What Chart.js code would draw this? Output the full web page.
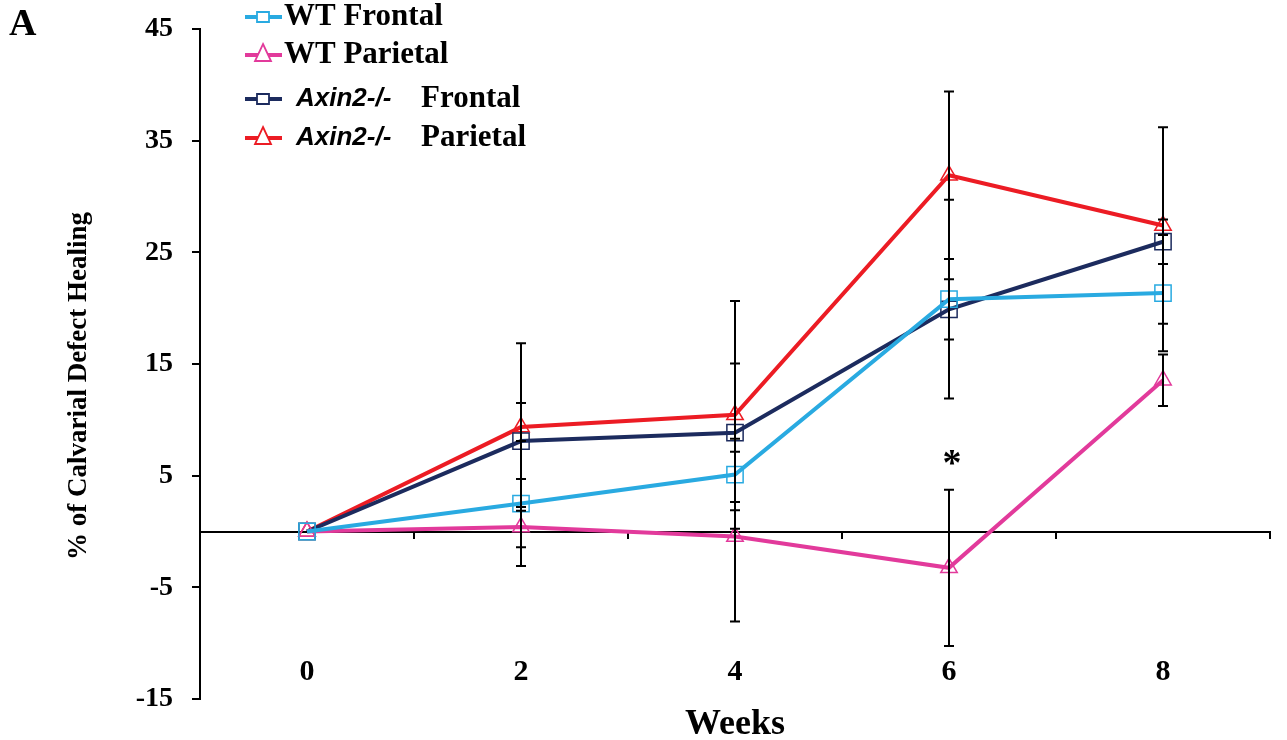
<!DOCTYPE html>
<html>
<head>
<meta charset="utf-8">
<script src="https://cdn.jsdelivr.net/npm/chart.js@4.4.1/dist/chart.umd.min.js"></script>
<style>
  html, body { margin: 0; padding: 0; background: #fff; }
  canvas { display: block; }
</style>
</head>
<body>
<canvas id="canvas" width="1287" height="740"></canvas>
<script>
const weeks = ['0', '2', '4', '6', '8'];
const yTicks = [-15, -5, 5, 15, 25, 35, 45];

const wtFrontal = [0, 2.5, 5.1, 20.8, 21.35];
const wtFrontalErr = [0, 5.6, 3.2, 8.9, 5.2];
const wtParietal = [0, 0.4, -0.45, -3.25, 13.55];
const wtParietalErr = [0, 1.8, 7.6, 7.0, 2.3];
const axinFrontal = [0, 8.1, 8.85, 19.9, 25.95];
const axinFrontalErr = [0, 3.4, 6.2, 2.7, 2.0];
const axinParietal = [0, 9.35, 10.45, 31.9, 27.4];
const axinParietalErr = [0, 7.5, 10.2, 7.5, 8.8];

// legend text: italic part, plain part
const legendNames = [['', 'WT Frontal'], ['', 'WT Parietal'], ['Axin2-/-', 'Frontal'], ['Axin2-/-', 'Parietal']];
const marks = [{ week: '6', value: 6.7, text: '*' }];

const serif = '"Liberation Serif", "Times New Roman", serif';
Chart.defaults.font.family = serif;
Chart.defaults.font.weight = 'bold';
Chart.defaults.color = '#000';

function series(i, data, errors, color, style) {
    return {
        label: legendNames[i].join(' ').trim(),
        parts: legendNames[i],
        data: data,
        errors: errors,
        borderColor: color,
        backgroundColor: color,
        borderWidth: 4,
        pointStyle: style,
        pointRadius: style === 'rect' ? 11.5 : 9.5,
        pointBorderWidth: 1.5,
        pointBackgroundColor: 'rgba(0,0,0,0)',
        pointBorderColor: color,
        tension: 0
    };
}

const errorBars = {
    id: 'errorBars',
    afterDatasetsDraw(chart) {
        const { ctx, scales: { x, y } } = chart;
        ctx.save();
        ctx.strokeStyle = '#000';
        ctx.lineWidth = 2;
        chart.data.datasets.forEach(ds => {
            ds.errors.forEach((e, i) => {
                if (!e) return;
                const px = x.getPixelForValue(i);
                const top = y.getPixelForValue(ds.data[i] + e);
                const bot = y.getPixelForValue(ds.data[i] - e);
                ctx.beginPath();
                ctx.moveTo(px, top); ctx.lineTo(px, bot);
                ctx.moveTo(px - 5, top); ctx.lineTo(px + 5, top);
                ctx.moveTo(px - 5, bot); ctx.lineTo(px + 5, bot);
                ctx.stroke();
            });
        });
        ctx.restore();
    }
};

const legendBox = {
    id: 'legendBox',
    afterDraw(chart) {
        const ctx = chart.ctx;
        const rows = [17, 55, 99, 138];
        chart.data.datasets.forEach((ds, i) => {
            const y = rows[i];
            ctx.save();
            ctx.strokeStyle = ds.borderColor;
            ctx.lineWidth = 4;
            ctx.beginPath();
            ctx.moveTo(245, y); ctx.lineTo(282, y);
            ctx.stroke();
            ctx.lineWidth = 1.8;
            ctx.fillStyle = '#fff';
            ctx.beginPath();
            if (ds.pointStyle === 'rect') {
                ctx.rect(257, y - 5, 12, 10);
            } else {
                ctx.moveTo(263, y - 11);
                ctx.lineTo(271, y + 6);
                ctx.lineTo(255, y + 6);
                ctx.closePath();
            }
            ctx.fill();
            ctx.stroke();
            ctx.fillStyle = '#000';
            ctx.textBaseline = 'middle';
            ctx.textAlign = 'left';
            if (ds.parts[0]) {
                ctx.font = 'italic bold 26px "Liberation Sans", Arial, sans-serif';
                ctx.fillText(ds.parts[0], 296, y);
                ctx.font = 'bold 31px ' + serif;
                ctx.fillText(ds.parts[1], 421, y);
            } else {
                ctx.font = 'bold 31px ' + serif;
                ctx.fillText(ds.parts[1], 284, y);
            }
            ctx.restore();
        });
    }
};

const texts = {
    id: 'texts',
    afterDraw(chart) {
        const { ctx, scales: { x, y } } = chart;
        ctx.save();
        ctx.fillStyle = '#000';
        ctx.textAlign = 'left';
        ctx.textBaseline = 'middle';
        ctx.font = 'bold 38px ' + serif;
        ctx.fillText('A', 9, 25);

        ctx.translate(79, 386);
        ctx.rotate(-Math.PI / 2);
        ctx.textAlign = 'center';
        ctx.font = 'bold 27px ' + serif;
        ctx.fillText('% of Calvarial Defect Healing', 0, 0);
        ctx.restore();

        ctx.save();
        ctx.fillStyle = '#000';
        ctx.textAlign = 'center';
        ctx.textBaseline = 'alphabetic';
        ctx.font = 'bold 38px ' + serif;
        marks.forEach(m => {
            const px = x.getPixelForValue(weeks.indexOf(m.week));
            const py = y.getPixelForValue(m.value);
            ctx.fillText(m.text, px + 3, py + 0.49 * 38);
        });
        ctx.restore();
    }
};

const ctx = document.getElementById('canvas').getContext('2d');
const myChart = new Chart(ctx, {
    type: 'line',
    data: {
        labels: weeks,
        datasets: [
            series(0, wtFrontal, wtFrontalErr, '#29aae1', 'rect'),
            series(1, wtParietal, wtParietalErr, '#e23a9b', 'triangle'),
            series(2, axinFrontal, axinFrontalErr, '#1c2b5e', 'rect'),
            series(3, axinParietal, axinParietalErr, '#ec1c24', 'triangle')
        ]
    },
    options: {
        responsive: false,
        animation: false,
        layout: { padding: { top: 29, right: 17, left: 0, bottom: 0 } },
        plugins: {
            legend: { display: false },
            tooltip: { enabled: false }
        },
        scales: {
            x: {
                type: 'category',
                position: 'bottom',
                offset: true,
                grid: { display: false },
                border: { display: false },
                ticks: { display: false },
                title: { display: true, text: 'Weeks', font: { size: 36, weight: 'bold', lineHeight: 1 }, padding: { top: 0, bottom: -3 } },
                afterFit: s => { s.height = 41; }
            },
            xLabels: {
                type: 'category',
                position: { y: -10.3 },
                offset: true,
                grid: { display: false },
                border: { display: false },
                ticks: { font: { size: 30, weight: 'bold' }, padding: 0, maxRotation: 0, autoSkip: false }
            },
            xZero: {
                type: 'category',
                position: { y: 0 },
                offset: true,
                grid: { drawOnChartArea: false, offset: true, tickLength: 6, color: '#000', lineWidth: 2 },
                border: { display: true, color: '#000', width: 2 },
                ticks: { display: false }
            },
            y: {
                type: 'linear',
                position: 'left',
                min: -15,
                max: 45,
                afterBuildTicks: s => { s.ticks = yTicks.map(v => ({ value: v })); },
                grid: { drawOnChartArea: false, tickLength: 8, color: '#000', lineWidth: 2 },
                border: { color: '#000', width: 2 },
                ticks: { font: { size: 28, weight: 'bold' }, padding: 19 },
                afterFit: s => { s.width = 200; s.paddingTop = 0; s.paddingBottom = 0; }
            }
        }
    },
    plugins: [errorBars, legendBox, texts]
});
</script>
</body>
</html>
